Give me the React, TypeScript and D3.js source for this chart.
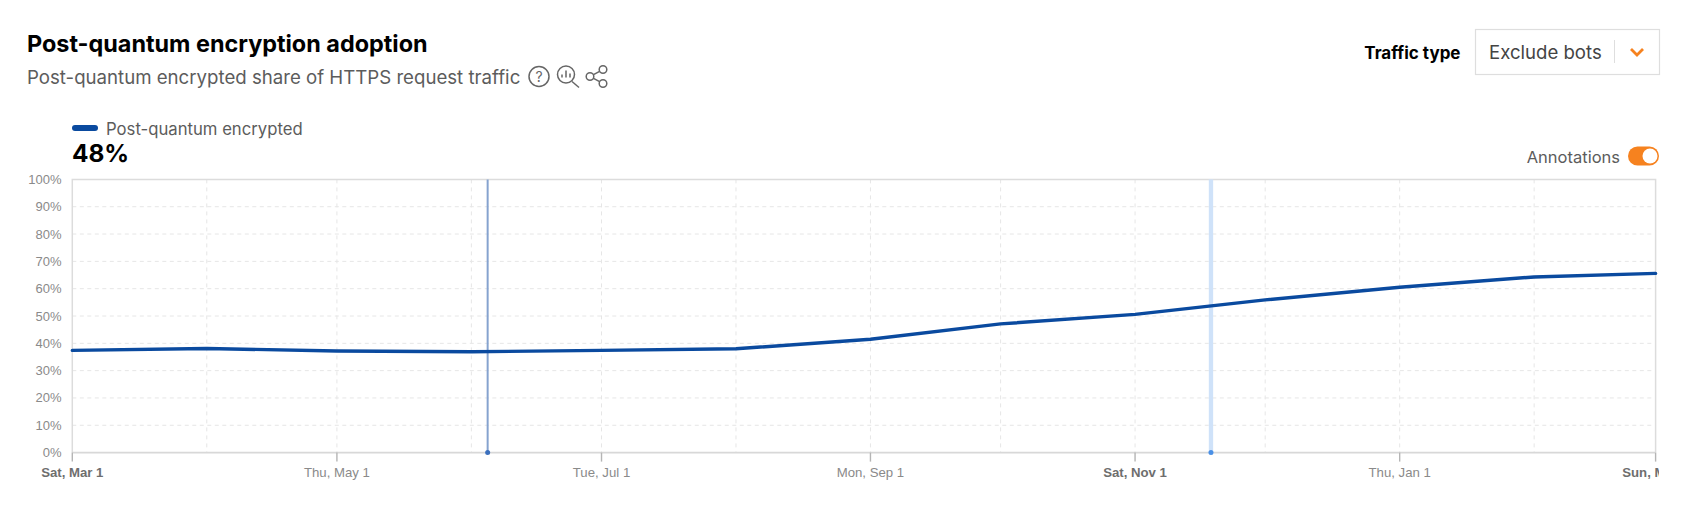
import { useEffect, useRef } from "react";
import * as d3 from "d3";

const dates = [
  "2025-03-01", "2025-04-01", "2025-05-01", "2025-06-01", "2025-07-01", "2025-08-01", "2025-09-01",
  "2025-10-01", "2025-11-01", "2025-12-01", "2026-01-01", "2026-02-01", "2026-03-01",
].map((d) => new Date(d));
const shares = [37.4, 38.1, 37.2, 36.9, 37.4, 38, 41.5, 47.1, 50.6, 55.9, 60.5, 64.3, 65.6];
const yTicks = [0, 10, 20, 30, 40, 50, 60, 70, 80, 90, 100];
const xLabelDates = ["2025-03-01", "2025-05-01", "2025-07-01", "2025-09-01", "2025-11-01", "2026-01-01", "2026-03-01"];
const xLabels = ["Sat, Mar 1", "Thu, May 1", "Tue, Jul 1", "Mon, Sep 1", "Sat, Nov 1", "Thu, Jan 1", "Sun, Mar 1"];
const boldLabels = ["Sat, Mar 1", "Sat, Nov 1", "Sun, Mar 1"];
const pointEvent = "2025-06-04T18:00:00Z";
const rangeEvent = ["2025-11-18", "2025-11-19"];

const width = 1687;
const height = 507;
const left = 72.3;
const right = 1655.6;
const top = 179.4;
const bottom = 452.6;
const sans = "Inter, 'Noto Sans', sans-serif";
const axisFont = "'Liberation Sans', Arial, sans-serif";

const App = () => {
  const ref = useRef<SVGGElement>(null);

  useEffect(() => {
    const g = d3.select(ref.current);
    g.selectAll("*").remove();

    const x = d3.scaleUtc().domain([dates[0], dates[dates.length - 1]]).range([left, right]);
    const y = d3.scaleLinear().domain([0, 100]).range([bottom, top]);

    // dashed grid
    g.append("g")
      .selectAll("line")
      .data(yTicks.slice(1, -1))
      .enter()
      .append("line")
      .attr("x1", left)
      .attr("x2", right - 3)
      .attr("y1", (d) => y(d))
      .attr("y2", (d) => y(d))
      .attr("stroke", "#e6e6e6")
      .attr("stroke-width", 1)
      .attr("stroke-dasharray", "4,3.5");
    g.append("g")
      .selectAll("line")
      .data(dates.slice(1, -1))
      .enter()
      .append("line")
      .attr("x1", (d) => x(d))
      .attr("x2", (d) => x(d))
      .attr("y1", top)
      .attr("y2", bottom)
      .attr("stroke", "#e6e6e6")
      .attr("stroke-width", 1)
      .attr("stroke-dasharray", "4,4");

    // frame
    g.append("path")
      .attr("d", `M${left},${bottom}V${top}H${right}V${bottom}`)
      .attr("fill", "none")
      .attr("stroke", "#dcdcdc")
      .attr("stroke-width", 1.5);
    g.append("line")
      .attr("x1", left)
      .attr("x2", right)
      .attr("y1", bottom)
      .attr("y2", bottom)
      .attr("stroke", "#d8d8d8")
      .attr("stroke-width", 1.6);

    // y labels
    g.append("g")
      .selectAll("text")
      .data(yTicks)
      .enter()
      .append("text")
      .attr("x", 61.5)
      .attr("y", (d) => y(d) + 4.5)
      .attr("text-anchor", "end")
      .attr("font-family", axisFont)
      .attr("font-size", 13)
      .attr("fill", "#8a8a8a")
      .text((d) => `${d}%`);

    // x ticks and labels
    const clip = g.append("clipPath").attr("id", "x-clip");
    clip.append("rect").attr("x", 0).attr("y", 0).attr("width", 1659).attr("height", height);
    const xAxis = g.append("g").attr("clip-path", "url(#x-clip)");
    xLabelDates.forEach((d, i) => {
      const px = x(new Date(d));
      const bold = boldLabels.includes(xLabels[i]);
      xAxis
        .append("line")
        .attr("x1", px)
        .attr("x2", px)
        .attr("y1", bottom)
        .attr("y2", bottom + 9)
        .attr("stroke", "#b5b5b5")
        .attr("stroke-width", 1.4);
      xAxis
        .append("text")
        .attr("x", px)
        .attr("y", 477)
        .attr("text-anchor", "middle")
        .attr("font-family", axisFont)
        .attr("font-size", 13.2)
        .attr("font-weight", bold ? 700 : 400)
        .attr("fill", bold ? "#6e6e6e" : "#8a8a8a")
        .text(xLabels[i]);
    });

    // annotations
    const evX = x(new Date(pointEvent));
    g.append("line")
      .attr("x1", evX)
      .attr("x2", evX)
      .attr("y1", top)
      .attr("y2", bottom)
      .attr("stroke", "#86a3cf")
      .attr("stroke-width", 2);
    g.append("circle").attr("cx", evX).attr("cy", bottom).attr("r", 2.5).attr("fill", "#3b6fbd");

    const x0 = x(new Date(rangeEvent[0]));
    const x1 = x(new Date(rangeEvent[1]));
    g.append("rect")
      .attr("x", x0)
      .attr("y", top)
      .attr("width", x1 - x0)
      .attr("height", bottom - top)
      .attr("fill", "#cfe2f9");
    g.append("circle")
      .attr("cx", (x0 + x1) / 2)
      .attr("cy", bottom)
      .attr("r", 2.5)
      .attr("fill", "#4a90e6");

    // series
    const line = d3
      .line<number>()
      .x((_, i) => x(dates[i]))
      .y((d) => y(d));
    g.append("path")
      .attr("d", line(shares) as string)
      .attr("fill", "none")
      .attr("stroke", "#0a4a9f")
      .attr("stroke-width", 3.4)
      .attr("stroke-linecap", "round")
      .attr("stroke-linejoin", "round");
  }, []);

  return (
    <svg
      width={width}
      height={height}
      style={{ position: "absolute", left: 0, top: 0, background: "#fff" }}
      fontFamily={sans}
    >
      <text x={27} y={52} fontSize={23.4} fontWeight={700} fill="#000">
        Post-quantum encryption adoption
      </text>
      <text x={27} y={84} fontSize={18.65} fill="#5c5c5c">
        Post-quantum encrypted share of HTTPS request traffic
      </text>
      <g fill="none" stroke="#666" strokeWidth={1.5}>
        <circle cx={539} cy={76.5} r={10} />
        <text x={539} y={81.5} fontSize={14} textAnchor="middle" fill="#666" stroke="none">?</text>
        <circle cx={566} cy={74.5} r={8.5} />
        <path d="M572 81.5 L579 87.5" />
        <path d="M562 77.5 V74.5 M566 77.5 V70.5 M570 77.5 V73.5" />
        <circle cx={590} cy={76.5} r={3.8} />
        <circle cx={603} cy={69.5} r={3.8} />
        <circle cx={603} cy={83.5} r={3.8} />
        <path d="M593.5 74.7 L599.6 71.3 M593.5 78.3 L599.6 81.7" />
      </g>

      <text x={1460.5} y={59} fontSize={17} fontWeight={700} fill="#000" textAnchor="end">Traffic type</text>
      <rect x={1475.5} y={29.5} width={184} height={45} fill="#fff" stroke="#dedede" strokeWidth={1.2} />
      <text x={1489} y={58.5} fontSize={18.6} fill="#444">Exclude bots</text>
      <line x1={1614.5} x2={1614.5} y1={40} y2={63} stroke="#dedede" />
      <path d="M1631 49 L1637 55 L1643 49" fill="none" stroke="#f6821f" strokeWidth={2.8} />

      <rect x={72} y={125} width={26} height={6} rx={3} fill="#0a4a9f" />
      <text x={106} y={135} fontSize={16.7} fill="#5c5c5c">Post-quantum encrypted</text>
      <text x={72} y={162} fontSize={24.4} fontWeight={700} fill="#000">48%</text>

      <text x={1620} y={163} fontSize={16.5} fill="#5c5c5c" textAnchor="end">Annotations</text>
      <rect x={1628} y={146.5} width={31} height={19} rx={9.5} fill="#f6821f" />
      <circle cx={1650} cy={156} r={7.5} fill="#fff" />

      <g ref={ref} />
    </svg>
  );
};

export default App;
